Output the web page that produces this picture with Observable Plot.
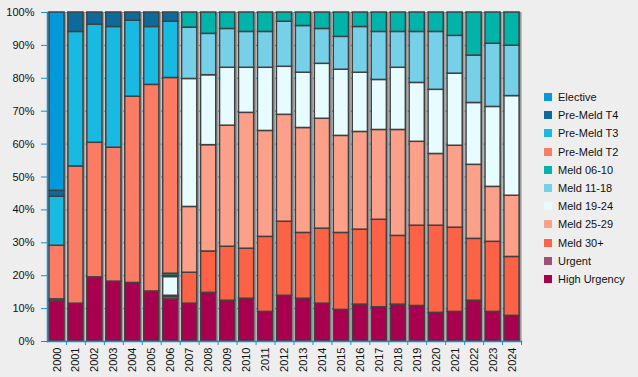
<!DOCTYPE html>
<html><head><meta charset="utf-8">
<script src="https://cdn.jsdelivr.net/npm/d3@7"></script>
<script src="https://cdn.jsdelivr.net/npm/@observablehq/plot@0.6"></script>
<style>
html,body{margin:0;padding:0;background:#eeeeee;}
#wrap{position:relative;width:638px;height:377px;font-family:"Liberation Sans",Arial,sans-serif;}
#legend{position:absolute;left:544px;top:88px;font-size:11px;color:#111;}
.item{height:18.2px;display:flex;align-items:center;white-space:nowrap;}
.sw{width:8px;height:8px;margin-right:6px;flex:none;}
</style></head><body><div id="wrap"><div id="legend"></div></div>
<script>
const years = ["2000","2001","2002","2003","2004","2005","2006","2007","2008","2009","2010","2011","2012","2013","2014","2015","2016","2017","2018","2019","2020","2021","2022","2023","2024"];

// stacking order, bottom to top
const categories = ["High Urgency","Urgent","Meld 30+","Meld 25-29","Meld 19-24","Meld 11-18","Meld 06-10","Pre-Meld T2","Pre-Meld T3","Pre-Meld T4","Elective"];
const colors = ["#a8004f","#a05078","#fc6245","#fda08a","#e6fcff","#76d0e8","#00b4aa","#fa7c64","#18bae2","#0f6a9c","#0399da"];

const highUrgency = [12.2,11.5,19.5,18.2,17.8,15.2,12.8,11.5,14.8,12.4,13.0,9.0,13.9,13.0,11.5,9.6,11.2,10.4,11.2,10.8,8.7,9.0,12.4,9.0,7.8];
const urgent      = [0.6,0,0,0,0,0,0,0,0,0,0,0,0,0,0,0,0,0,0,0,0,0,0,0,0];
const meld30      = [0,0,0,0,0,0,0.7,9.4,12.6,16.4,15.2,22.8,22.5,20.0,22.8,23.4,22.8,26.6,20.9,24.4,26.5,25.6,18.8,21.3,17.9];
const meld25      = [0,0,0,0,0,0,0.4,20.0,32.4,36.8,41.3,32.2,32.5,31.9,33.4,29.5,29.7,27.3,32.2,25.5,21.8,24.9,22.5,16.7,18.6];
const meld19      = [0,0,0,0,0,0,5.7,38.9,21.3,17.6,13.7,19.2,14.6,16.8,16.7,20.1,18.0,15.2,18.9,17.9,19.5,21.9,18.8,24.3,30.3];
const meld11      = [0,0,0,0,0,0,0.4,15.6,12.6,11.8,10.9,10.9,13.7,14.2,10.6,10.0,13.9,14.6,10.9,15.5,17.6,11.5,14.4,19.2,15.3];
const meld06      = [0,0,0,0,0,0,0.6,4.6,6.5,5.0,5.9,5.9,2.8,4.1,5.0,7.4,4.4,5.9,5.9,5.9,5.9,7.1,13.1,9.5,10.1];
const preT2       = [16.3,41.7,40.9,40.7,56.6,62.8,59.5,0,0,0,0,0,0,0,0,0,0,0,0,0,0,0,0,0,0];
const preT3       = [14.9,40.9,35.9,36.7,23.1,17.6,17.1,0,0,0,0,0,0,0,0,0,0,0,0,0,0,0,0,0,0];
const preT4       = [1.8,5.9,3.7,4.4,2.5,4.4,2.8,0,0,0,0,0,0,0,0,0,0,0,0,0,0,0,0,0,0];
const elective    = [54.2,0,0,0,0,0,0,0,0,0,0,0,0,0,0,0,0,0,0,0,0,0,0,0,0];

const yTickValues = [0,10,20,30,40,50,60,70,80,90,100];

const series = [highUrgency,urgent,meld30,meld25,meld19,meld11,meld06,preT2,preT3,preT4,elective];
const rows = [];
categories.forEach((c, ci) => years.forEach((y, yi) => {
  if (series[ci][yi] > 0) rows.push({year: y, category: c, value: series[ci][yi]});
}));

const W = 638, H = 377, ML = 47, MR = 117, MT = 12, MB = 36;
const pIn = 0.2, pOut = 0.1;
const step = (W - ML - MR) / (years.length - pIn + 2 * pOut);
const blue = "#1b8fd6";

const chart = Plot.plot({
  width: W, height: H,
  marginLeft: ML, marginRight: MR, marginTop: MT, marginBottom: MB,
  style: {background: "transparent", fontFamily: '"Liberation Sans", Arial, sans-serif', fontSize: "11px", color: "#111"},
  x: {domain: years, paddingInner: pIn, paddingOuter: pOut, align: 0.5, round: false, label: null},
  y: {domain: [0, 1], label: null},
  color: {domain: categories, range: colors},
  marks: [
    Plot.frame({fill: "#f7f7f7", stroke: null}),
    Plot.gridY(yTickValues.map(d => d / 100), {stroke: blue, strokeOpacity: 1, strokeWidth: 1}),
    Plot.barY(years, {x: d => d, y1: 0, y2: 1, fill: "#9a9a9a", dx: 2.5}),
    Plot.barY(rows, Plot.stackY({
      x: "year", y: "value", fill: "category",
      order: categories, offset: "normalize",
      stroke: "#404040", strokeWidth: 1.5
    })),
    Plot.axisY(yTickValues.map(d => d / 100), {
      tickFormat: d => Math.round(d * 100) + "%", tickSize: 6, tickPadding: 7,
      stroke: blue, fill: "#111", fontSize: 11, label: null
    }),
    Plot.axisX(years, {tickSize: 4, tickFormat: () => "", dx: step / 2, stroke: blue, label: null}),
    Plot.axisX(years, {tickRotate: -90, tickSize: 0, tickPadding: 6, fill: "#111", fontSize: 11, label: null}),
    Plot.frame({anchor: "left", stroke: blue, strokeWidth: 1.5}),
    Plot.frame({anchor: "bottom", stroke: blue, strokeWidth: 1.5})
  ]
});
const wrap = document.getElementById("wrap");
wrap.insertBefore(chart, wrap.firstChild);

const legend = document.getElementById("legend");
categories.slice().reverse().forEach((c) => {
  const i = categories.indexOf(c);
  const item = document.createElement("div");
  item.className = "item";
  item.innerHTML = `<span class="sw" style="background:${colors[i]}"></span><span>${c}</span>`;
  legend.appendChild(item);
});
</script>
</body></html>
